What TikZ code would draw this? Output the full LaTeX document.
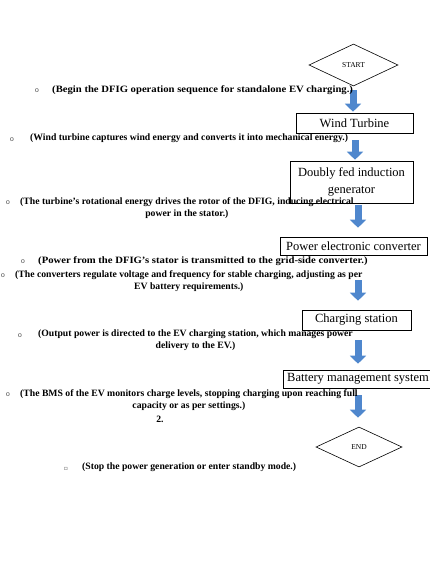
\documentclass[tikz,border=0pt]{standalone}
\usepackage{fontspec}
\usepackage{graphicx}
\setmainfont{Liberation Serif}
\newfontfamily\bulletfont{Liberation Mono}
\newfontfamily\symfont{DejaVu Sans}
\usetikzlibrary{shapes.geometric,arrows.meta,calc}
\definecolor{arrowblue}{RGB}{79,135,205}
\newcommand{\widetext}[1]{\scalebox{1.1}[1]{#1}}

\begin{document}
\begin{tikzpicture}[x=1pt,y=-1pt,
  box/.style={draw,line width=0.6pt,inner sep=0pt,align=center,font=\fontsize{12.5}{17}\selectfont},
  term/.style={draw,diamond,line width=0.6pt,inner sep=0pt,font=\fontsize{7.5}{9}\selectfont},
  note/.style={inner sep=0pt,align=center,anchor=north west,font=\fontsize{9.7}{12}\selectfont\bfseries},
  dot/.style={inner sep=0pt,anchor=base,font=\bulletfont\fontsize{7}{8}\selectfont,text=black!70},
  flow/.style={line width=7pt,arrowblue,-{Triangle[width=16pt,length=8pt]}}]

  \useasboundingbox (0,0) rectangle (429,573);

  % Flow chart on the right
  \node[term, minimum width=89pt, minimum height=42pt] (start) at (353.5,65) {START};
  \node[box, minimum width=117pt, minimum height=20pt] (wt) at (354.5,123) {Wind Turbine};
  \node[box, minimum width=123pt, minimum height=42pt] (dfig) at (351.5,182) {Doubly fed induction\\generator};
  \node[box, minimum width=147pt, minimum height=18pt] (pec) at (353.5,246) {Power electronic converter};
  \node[box, minimum width=109pt, minimum height=20pt] (cs) at (356.5,320) {Charging station};
  \node[box, minimum width=150pt, minimum height=18pt] (bms) at (358,379) {Battery management system};
  \node[term, minimum width=86pt, minimum height=40pt] (end) at (359,447) {END};

  % Block arrows between the steps
  \draw[flow, shorten <=4pt, shorten >=1pt] ($(start.south)+(-0.5,0)$) -- ($(start.south |- wt.north)+(-0.5,0)$);
  \draw[flow, shorten <=7pt, shorten >=1pt] ($(wt.south)+(0.5,0)$) -- ($(wt.south |- dfig.north)+(0.5,0)$);
  \draw[flow, shorten <=2pt, shorten >=9pt] ($(dfig.south)+(6.5,0)$) -- ($(dfig.south |- pec.north)+(6.5,0)$);
  \draw[flow, shorten <=25pt, shorten >=9pt] ($(pec.south)+(4.5,0)$) -- ($(pec.south |- cs.north)+(4.5,0)$);
  \draw[flow, shorten <=10pt, shorten >=6pt] ($(cs.south)+(1.5,0)$) -- ($(cs.south |- bms.north)+(1.5,0)$);
  \draw[flow, shorten <=7pt, shorten >=9pt] ($(bms.south)+(0,0)$) -- ($(bms.south |- end.north)+(0,0)$);

  % Notes on the left
  \node[dot] (b1) at (37,92) {o};
  \node[note] (begin) at (52,85) {\widetext{(Begin the DFIG operation sequence for standalone EV charging.)}};
  \node[dot] (b2) at (12,141) {o};
  \node[note] (capture) at (30,134) {(Wind turbine captures wind energy and converts it into mechanical energy.)};
  \node[dot] (b3) at (8,204) {o};
  \node[note] (rotor) at (20,197) {(The turbine's rotational energy drives the rotor of the DFIG, inducing electrical\\power in the stator.)};
  \node[dot] (b4) at (23,263) {o};
  \node[note] (transmit) at (38,256) {\widetext{(Power from the DFIG's stator is transmitted to the grid-side converter.)}};
  \node[dot] (b5) at (3,277) {o};
  \node[note] (regulate) at (15,270) {(The converters regulate voltage and frequency for stable charging, adjusting as per\\EV battery requirements.)};
  \node[dot] (b6) at (20,337) {o};
  \node[note] (output) at (38,330) {(Output power is directed to the EV charging station, which manages power\\delivery to the EV.)};
  \node[dot] (b7) at (8,396) {o};
  \node[note] (monitor) at (20,389) {(The BMS of the EV monitors charge levels, stopping charging upon reaching full\\capacity or as per settings.)};
  \node[note, anchor=center] (num) at (160,419) {2.};
  \node[dot, font=\symfont\fontsize{6}{7}\selectfont] (b8) at (66,470) {▫};
  \node[note] (stop) at (82,463) {(Stop the power generation or enter standby mode.)};
\end{tikzpicture}
\end{document}
